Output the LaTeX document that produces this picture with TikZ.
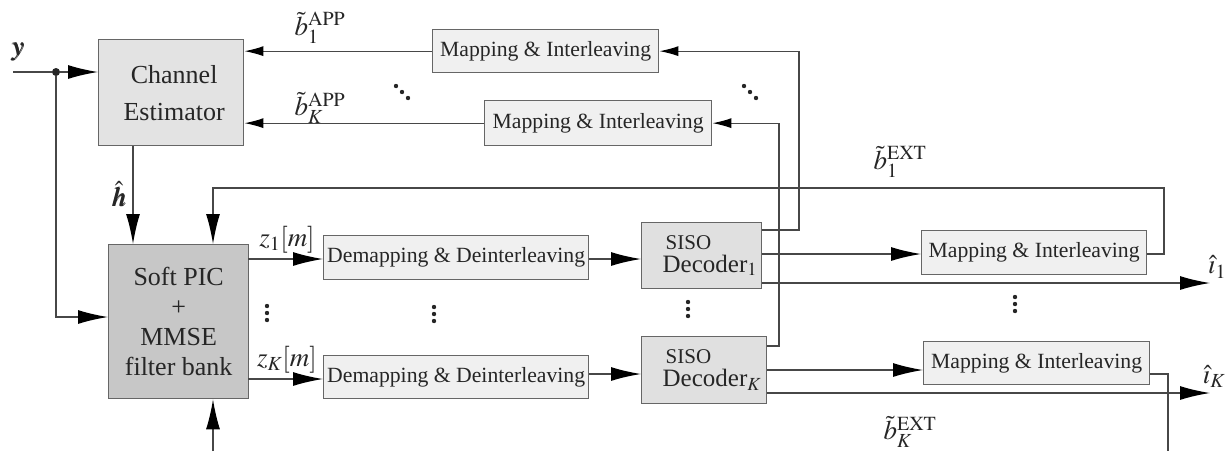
\documentclass[tikz,border=0pt]{standalone}
\usepackage{amsmath}
\usepackage{mathptmx}
\usepackage{bm}
\usepackage{fontspec}
\setmainfont{Liberation Serif}
\usetikzlibrary{arrows.meta}
\tikzset{
  line/.style={draw=black!72, line width=1.3pt},
  bigarr/.style={-{Latex[length=30pt,width=14pt,black]}},
  smallarr/.style={-{Latex[length=19pt,width=10pt,black]}},
  blk/.style={draw=black!60, line width=1.3pt, inner sep=0pt, anchor=north west, text=black!85},
  mapbox/.style={blk, fill=black!6, font=\fontsize{21.7}{24}\selectfont},
  decbox/.style={blk, fill=black!12, align=left, text width=120pt, font=\fontsize{25}{27}\selectfont},
  lab/.style={inner sep=0pt, text=black!85, font=\fontsize{27}{29}\selectfont},
  dotdot/.style={fill=black!85}
}
\begin{document}
\begin{tikzpicture}[x=1pt,y=-1pt]
\useasboundingbox (0,0) rectangle (1227,451);
% main blocks
\node[blk, fill=black!11, minimum width=145pt, minimum height=106pt, align=center,
      font=\fontsize{26}{37}\selectfont] (ce) at (98,39) {\hspace*{6pt}Channel\\\hspace*{6pt}Estimator};
\node[blk, fill=black!22, minimum width=140pt, minimum height=154pt, align=center,
      font=\fontsize{26}{30}\selectfont] (pic) at (108,244) {Soft PIC\\+\\MMSE\\filter bank};
\node[mapbox, minimum width=226pt, minimum height=43pt] (map1) at (432,29) {Mapping \& Interleaving};
\node[mapbox, minimum width=227pt, minimum height=45pt] (map2) at (484,100) {Mapping \& Interleaving};
\node[mapbox, minimum width=225pt, minimum height=44pt] (map3) at (921,230) {Mapping \& Interleaving};
\node[mapbox, minimum width=226pt, minimum height=43pt] (map4) at (923,341) {Mapping \& Interleaving};
\node[mapbox, minimum width=265pt, minimum height=44pt] (dem1) at (323,235) {Demapping \& Deinterleaving};
\node[mapbox, minimum width=265pt, minimum height=43pt] (demK) at (323,355) {Demapping \& Deinterleaving};
\node[decbox, minimum height=66pt] (dec1) at (641,222)
  {\hspace*{24pt}{\fontsize{21}{22}\selectfont SISO}\\[-4pt]\hspace*{21pt}Decoder$_1$};
\node[decbox, text width=125pt, minimum height=67pt] (decK) at (641,336)
  {\hspace*{24pt}{\fontsize{21}{22}\selectfont SISO}\\[-4pt]\hspace*{21pt}Decoder$_K$};

% coordinates
\coordinate (yin) at (13,72);
\coordinate (picin) at (108,317);
\coordinate (hx) at (133,0);
\coordinate (ex) at (213,0);
\coordinate (bot) at (213,451);
\coordinate (e1a) at (1164,188);
\coordinate (f1) at (799,230);
\coordinate (fK) at (779,346);
\coordinate (o1) at (1210,283);
\coordinate (oK) at (1210,393);
\coordinate (k2) at (923,370);
\coordinate (k3) at (1168,374);
\coordinate (k4) at (1168,451);
\coordinate (d1) at (641,259);
\coordinate (dK) at (641,374);
\coordinate (z1y) at (248,259);
\coordinate (zKy) at (248,379);
\coordinate (m3y) at (921,254);

\node[circle, fill=black!85, inner sep=0pt, minimum size=8pt] (dot) at (56,72) {};

% connectors
\draw[line] (yin) -- (dot);
\draw[line,bigarr] (dot) -- (dot -| ce.west);
\draw[line,bigarr] (dot) |- (pic.west |- picin);
\draw[line,bigarr] (ce.south -| hx) -- (pic.north -| hx);
\draw[line,bigarr] (map3.east |- m3y) -| (e1a) -| (pic.north -| ex);
\draw[line,bigarr] (bot) -- (pic.south -| bot);
\draw[line,smallarr] (map1.west) -- (map1.west -| ce.east);
\draw[line,smallarr] (map2.west) -- (map2.west -| ce.east);
\draw[line,smallarr] (dec1.east |- f1) -- (f1) |- (map1.east);
\draw[line,smallarr] (decK.east |- fK) -- (fK) |- (map2.east);
\draw[line,bigarr] (z1y) -- (dem1.west |- z1y);
\draw[line,bigarr] (zKy) -- (demK.west |- zKy);
\draw[line,bigarr] (dem1.east |- d1) -- (d1);
\draw[line,bigarr] (demK.east |- dK) -- (dK);
\draw[line,bigarr] (dec1.east |- m3y) -- (m3y);
\draw[line,bigarr] (dec1.east |- o1) -- (o1);
\draw[line,bigarr] (decK.east |- k2) -- (k2);
\draw[line,bigarr] (decK.east |- oK) -- (oK);
\draw[line] (map4.east |- k3) -- (k3) -- (k4);

% labels
\node[lab] (ylab) at (18,52) {$\bm{y}$};
\node[lab] (hh) at (119,194) {$\hat{\bm{h}}$};
\node[lab] (app1) at (320,28) {$\tilde{b}_1^{\mathrm{APP}}$};
\node[lab] (appK) at (320,108) {$\tilde{b}_K^{\mathrm{APP}}$};
\node[lab] (ext1) at (900,162) {$\tilde{b}_1^{\mathrm{EXT}}$};
\node[lab] (extK) at (910,432) {$\tilde{b}_K^{\mathrm{EXT}}$};
\node[lab] (z1) at (287,240) {$z_1[m]$};
\node[lab] (zK) at (287,360) {$z_K[m]$};
\node[lab] (i1) at (1217,267) {$\hat{\imath}_1$};
\node[lab] (iK) at (1214,376) {$\hat{\imath}_K$};

% dots
\foreach \px/\py in {267/313, 434/314, 688/309, 1015/304}
  \foreach \d in {-7,0,7}
    \fill[dotdot] (\px,\py+\d) circle (2.2pt);
\foreach \px/\py in {402/92, 750/92}
  \foreach \d in {-6,0,6}
    \fill[dotdot] (\px+\d,\py+\d) circle (2.2pt);
\end{tikzpicture}
\end{document}
